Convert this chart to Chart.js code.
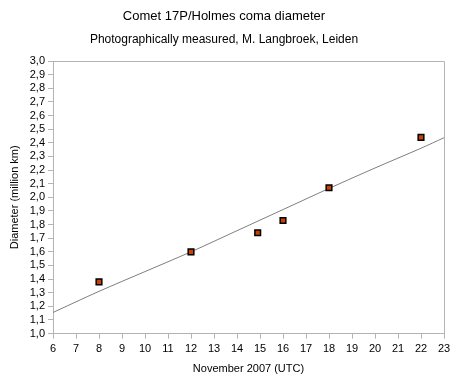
<!DOCTYPE html>
<html>
<head>
<meta charset="utf-8">
<script src="https://cdn.jsdelivr.net/npm/chart.js@4/dist/chart.umd.min.js"></script>
<style>
  html, body { margin: 0; padding: 0; background: #fff; }
  #wrap { width: 460px; height: 385px; }
</style>
</head>
<body>
<div id="wrap"><canvas id="cometChart" width="460" height="385"></canvas></div>
<script>
// measured coma diameter (million km) per day of November 2007
const obsDays = [8, 12, 14.9, 16, 18, 22];
const obsDiameter = [1.38, 1.60, 1.74, 1.83, 2.07, 2.44];

// trend line
const trendDays = [6, 8, 10, 12, 14, 16, 18, 20, 22, 23];
const trendDiameter = [1.155, 1.31, 1.455, 1.60, 1.755, 1.91, 2.065, 2.215, 2.36, 2.437];

const axisGray = '#b4b4b4';
const fontFamily = '"Liberation Sans", Arial, sans-serif';

// box around the plot area (top and right sides)
const frame = {
    id: 'frame',
    afterDraw(chart) {
        const a = chart.chartArea;
        const c = chart.ctx;
        c.save();
        c.strokeStyle = axisGray;
        c.lineWidth = 1;
        c.beginPath();
        c.moveTo(Math.round(a.left) + 0.5, Math.round(a.top) + 0.5);
        c.lineTo(Math.round(a.right) + 0.5, Math.round(a.top) + 0.5);
        c.lineTo(Math.round(a.right) + 0.5, Math.round(a.bottom) + 0.5);
        c.stroke();
        c.restore();
    }
};

new Chart(document.getElementById('cometChart').getContext('2d'), {
    type: 'scatter',
    data: {
        datasets: [
            {
                label: 'Measured',
                data: obsDays.map((d, i) => ({ x: d, y: obsDiameter[i] })),
                pointStyle: 'rect',
                pointRadius: 4,
                pointHoverRadius: 4,
                backgroundColor: '#c84100',
                borderColor: '#000',
                borderWidth: 1.5
            },
            {
                label: 'Trend',
                data: trendDays.map((d, i) => ({ x: d, y: trendDiameter[i] })),
                showLine: true,
                pointRadius: 0,
                borderColor: '#7f7f7f',
                borderWidth: 1,
                tension: 0.3
            }
        ]
    },
    options: {
        responsive: false,
        animation: false,
        layout: { padding: { left: 4, right: 16, top: 0, bottom: 9 } },
        plugins: {
            legend: { display: false },
            tooltip: { enabled: false },
            title: {
                display: true,
                text: 'Comet 17P/Holmes coma diameter',
                color: '#000',
                font: { family: fontFamily, size: 13, weight: 'normal' },
                padding: { top: 9, bottom: 6 }
            },
            subtitle: {
                display: true,
                text: 'Photographically measured, M. Langbroek, Leiden',
                color: '#000',
                font: { family: fontFamily, size: 12, weight: 'normal' },
                padding: { top: 2, bottom: 14 }
            }
        },
        scales: {
            x: {
                type: 'linear',
                min: 6,
                max: 23,
                ticks: {
                    stepSize: 1,
                    autoSkip: false,
                    color: '#000',
                    padding: 4,
                    font: { family: fontFamily, size: 11 }
                },
                grid: { drawOnChartArea: false, drawTicks: true, tickLength: 5, color: axisGray },
                border: { color: axisGray },
                title: {
                    display: true,
                    text: 'November 2007 (UTC)',
                    color: '#000',
                    font: { family: fontFamily, size: 11 },
                    padding: { top: 3, bottom: 0 }
                }
            },
            y: {
                min: 1,
                max: 3,
                afterFit: scale => { scale.width = 49; },
                ticks: {
                    stepSize: 0.1,
                    autoSkip: false,
                    color: '#000',
                    padding: 3,
                    font: { family: fontFamily, size: 11 },
                    callback: v => v.toFixed(1).replace('.', ',')
                },
                grid: { drawOnChartArea: false, drawTicks: true, tickLength: 5, color: axisGray },
                border: { color: axisGray },
                title: {
                    display: true,
                    text: 'Diameter (million km)',
                    color: '#000',
                    font: { family: fontFamily, size: 11 },
                    padding: { top: 4, bottom: 0 }
                }
            }
        }
    },
    plugins: [frame]
});
</script>
</body>
</html>
